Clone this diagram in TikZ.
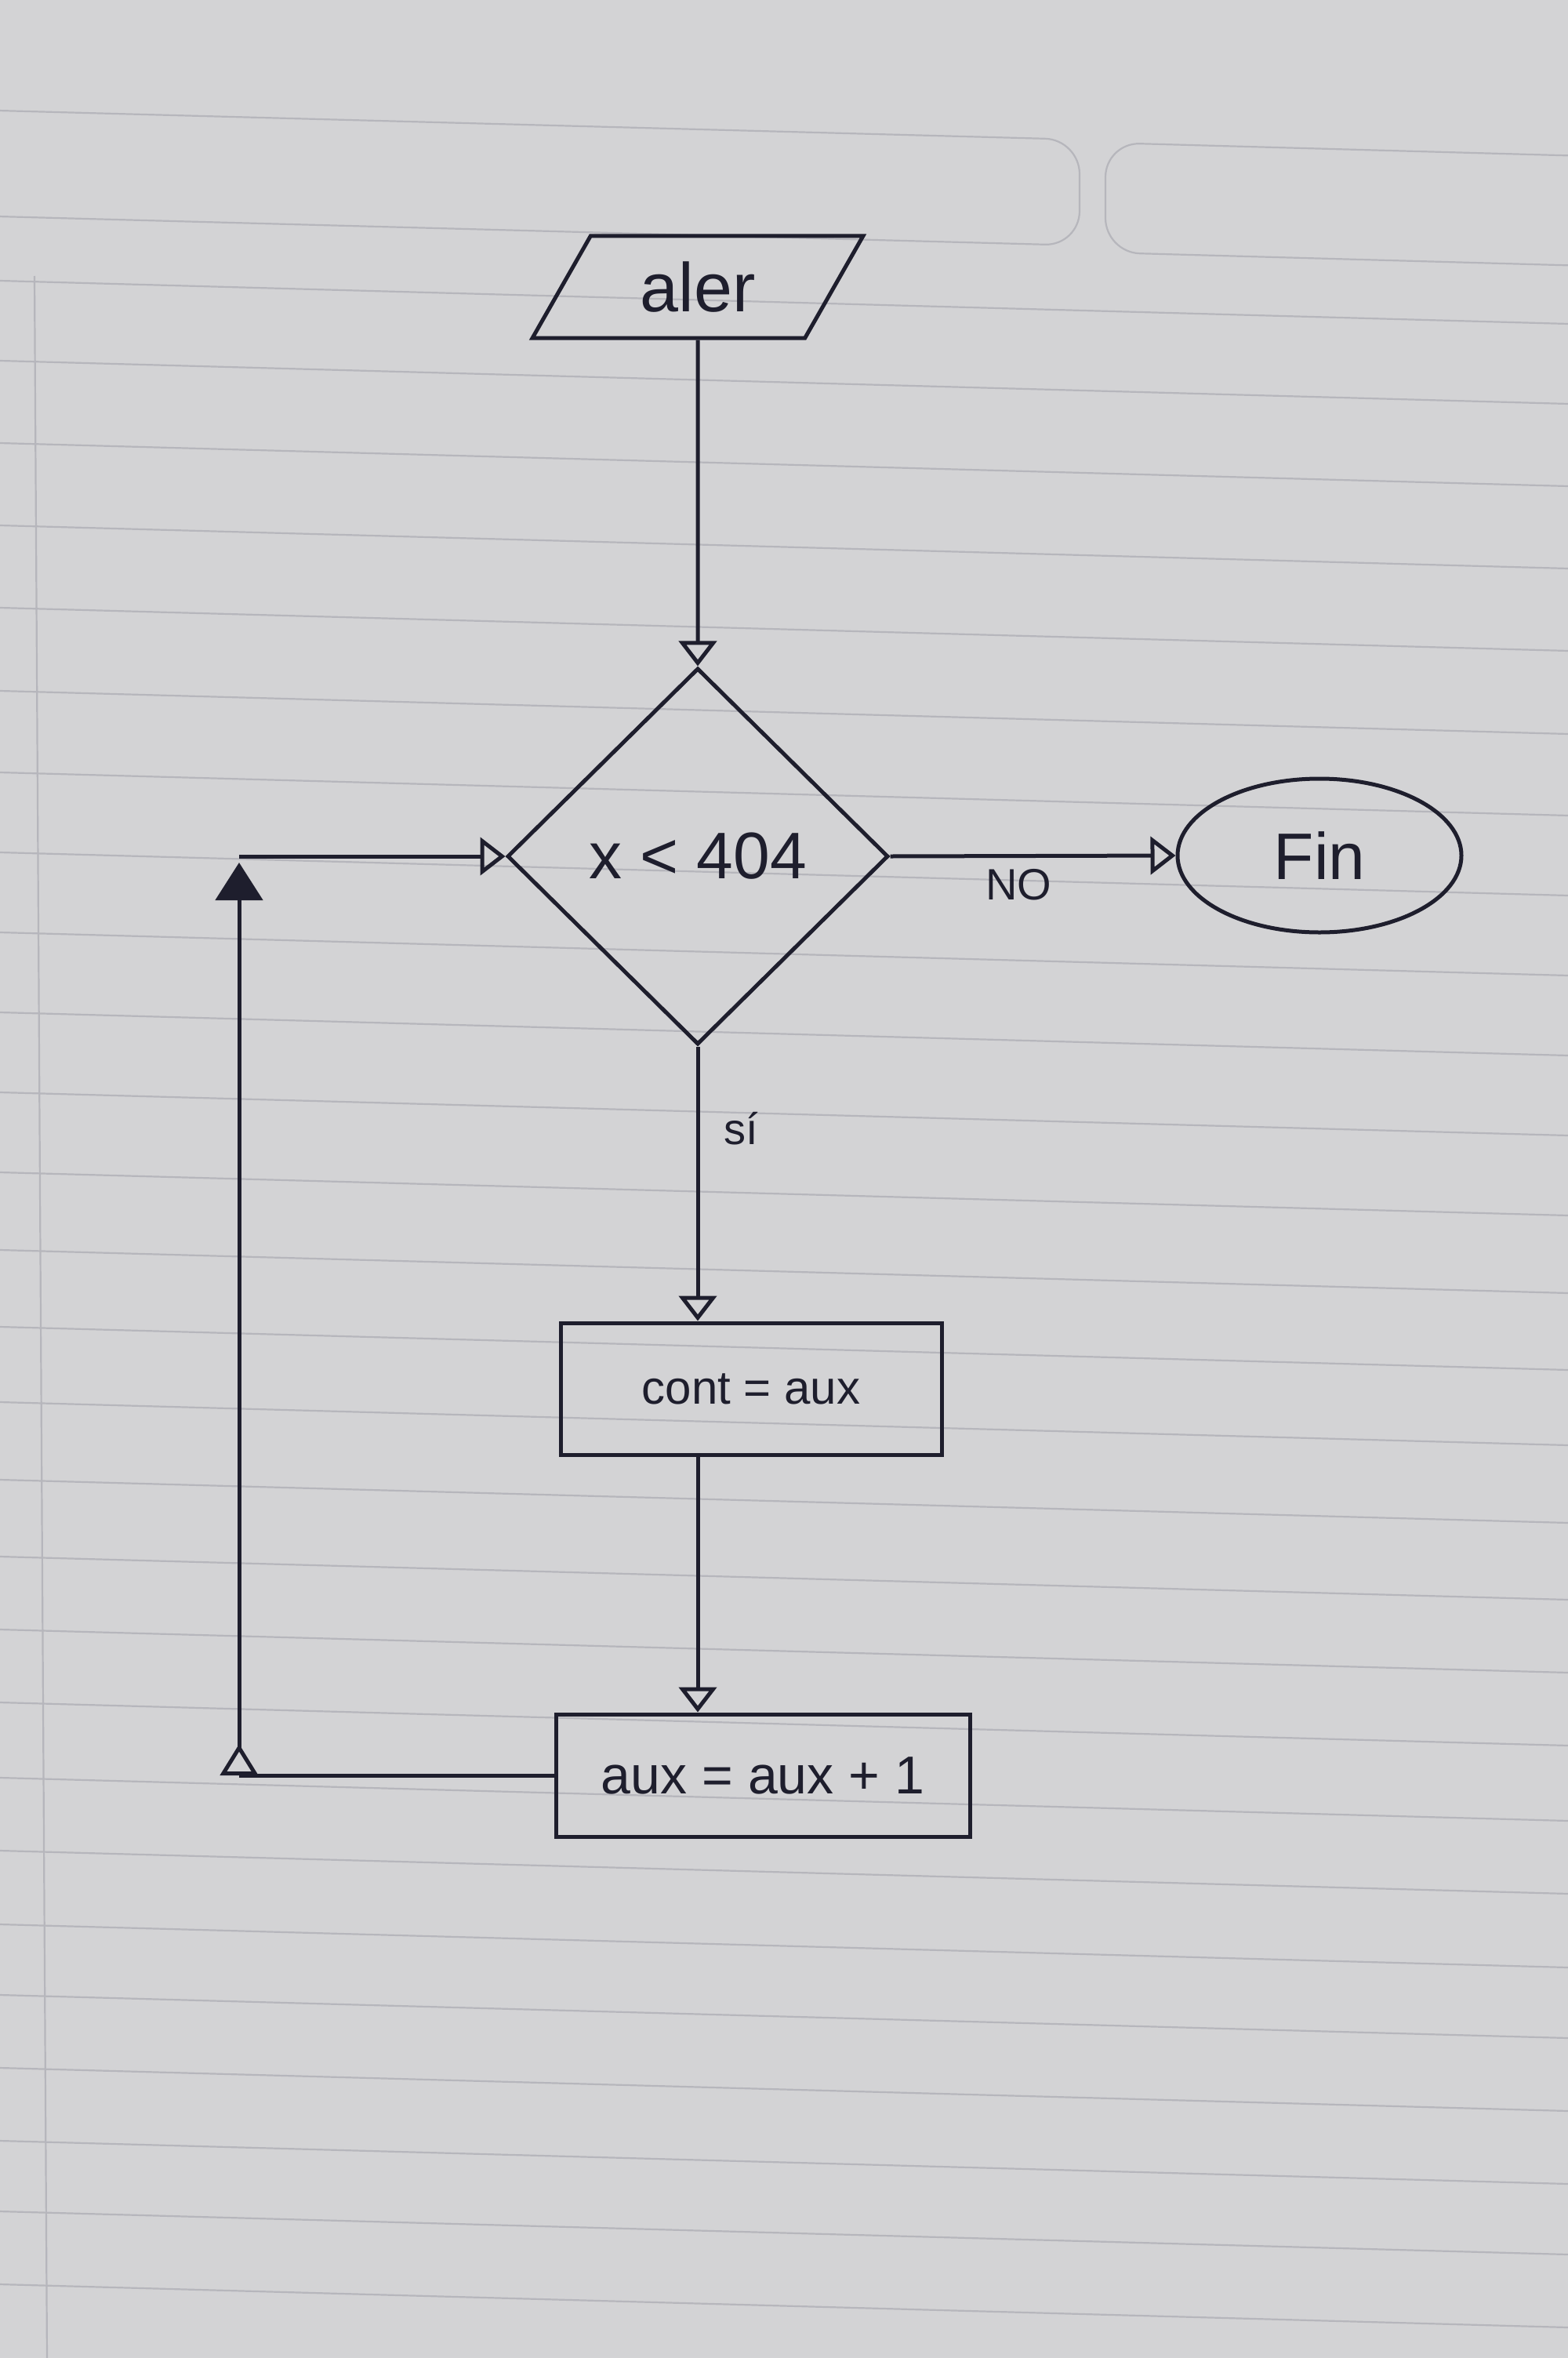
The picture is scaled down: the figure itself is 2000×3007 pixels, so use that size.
\documentclass[tikz,border=0pt]{standalone}
\usepackage{fontspec}
\setmainfont{Liberation Sans}
\usetikzlibrary{shapes.geometric,arrows.meta,calc}
\definecolor{paper}{RGB}{211,211,213}
\definecolor{rule}{RGB}{182,182,188}
\definecolor{ink}{RGB}{30,30,45}
\begin{document}
\begin{tikzpicture}[x=0.5pt,y=-0.5pt,
  shapebox/.style={draw=ink,line width=2.5pt,text=ink,inner sep=2pt},
  conn/.style={draw=ink,line width=2.5pt},
  opentip/.style={-{Triangle[open,length=16pt,width=24pt]}},
  ruleline/.style={draw=rule,line width=1.1pt},
  lbl/.style={text=ink,font=\fontsize{28}{32}\selectfont}]
% paper
\fill[paper] (0,0) rectangle (2000,3007);
\useasboundingbox (0,0) rectangle (2000,3007);
\draw[ruleline,rounded corners=22pt] (-40,140) -- (1377,178) -- (1377,313) -- (-40,275);
\draw[ruleline,rounded corners=22pt] (2060,200) -- (1410,182) -- (1410,322) -- (2060,340);
\foreach \y in {399,501,606,711,816,922,1026,1128,1230,1332,1434,1536,1635,1733,1829,1928,2026,2119,2212,2308,2401,2495,2585,2678,2771,2861,2954}
  \draw[ruleline] (0,\y-41) -- (2000,\y+14);
\draw[ruleline] (44,352) -- (60,3007);

% nodes
\node[shapebox, trapezium, trapezium left angle=60, trapezium right angle=120,
      trapezium stretches=true, minimum width=211pt, minimum height=65pt,
      font=\fontsize{44}{50}\selectfont] (aler) at (890,366) {aler};
\node[shapebox, diamond, minimum width=243pt, minimum height=240pt, inner sep=0pt,
      font=\fontsize{42}{48}\selectfont] (cond) at (890,1092) {x < 404};
\node[shapebox, ellipse, minimum width=181pt, minimum height=98pt,
      font=\fontsize{42}{48}\selectfont] (fin) at (1683,1091) {Fin};
\node[shapebox, rectangle, minimum width=243pt, minimum height=84pt,
      font=\fontsize{30}{36}\selectfont] (b1) at (958,1771) {cont = aux};
\node[shapebox, rectangle, minimum width=264pt, minimum height=78pt,
      font=\fontsize{34}{40}\selectfont] (b2) at (973,2264) {aux = aux + 1};
\coordinate (c1) at (305,2264);
\coordinate (c2) at (305,1092);

% connectors
\draw[conn,opentip] (aler) -- (cond);
\draw[conn,opentip] (cond.east) -- node[lbl,below=4pt,pos=0.45] {NO} (fin.west);
\draw[conn,opentip] (cond.south) -- node[lbl,right=12pt,pos=0.3] {sí} (cond.south |- b1.north);
\draw[conn,opentip] (b1.south -| cond.south) -- (b2.north -| cond.south);
\draw[conn] (b2.west) -- (c1);
\draw[conn,{Triangle[open,reversed,length=20pt,width=24pt]}-{Triangle[length=24pt,width=30pt]},shorten >=4pt] (c1) -- (c2);
\draw[conn,opentip] (c2) -- (cond.west);
\end{tikzpicture}
\end{document}
